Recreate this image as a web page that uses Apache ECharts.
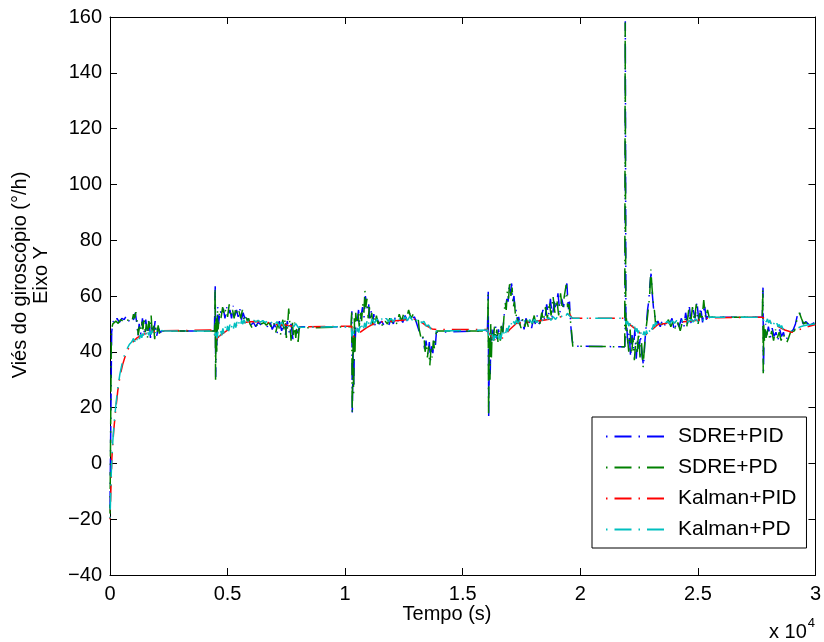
<!DOCTYPE html>
<html>
<head>
<meta charset="utf-8">
<script src="https://cdn.jsdelivr.net/npm/echarts@6/dist/echarts.min.js"></script>
<style>
html,body{margin:0;padding:0;background:#fff;}
#chart{width:824px;height:642px;}
</style>
</head>
<body>
<div id="chart"></div>
<script>
// Axis ticks
const xTicks = [0, 5000, 10000, 15000, 20000, 25000, 30000];
const yTicks = [-40, -20, 0, 20, 40, 60, 80, 100, 120, 140, 160];
const seriesNames = ['SDRE+PID', 'SDRE+PD', 'Kalman+PID', 'Kalman+PD'];

// SDRE+PID (blue) [time s, bias deg/h]
const sdrePid = [[0,-16],[70,47],[130,51],[200,50],[300,52],[400,50.5],[500,52],[600,51.5],[700,53],[800,51],[900,52.5],[1000,51.5],[1080,54],[1140,50],[1190,45.5],[1240,50],[1300,46],[1380,52],[1440,46.5],[1520,51.5],[1580,47.5],[1660,52],[1720,45],[1800,50],[1860,47],[1920,51],[1980,45.5],[2060,48.5],[2140,47],[2250,47.5],[4440,47.5],
[4455,48],[4475,63.5],[4495,31],[4520,50],[4550,42],[4580,56],[4620,50],[4680,55],[4750,53],[4820,55.5],[4890,52],[4960,56],[5030,53.5],[5100,55],[5170,52],[5240,56.5],[5310,53],[5380,55],[5450,52.5],[5520,55.5],[5590,51.5],[5660,54],[5730,52],[5800,53.5],[5880,50.5],[5980,49.5],[6100,50.5],[6200,49],[6300,50.5],[6450,49.5],[6600,50],[6700,49],[6800,51],[6900,48],[7000,50],[7100,46.5],[7200,51],[7300,47.5],[7380,50],[7460,46],[7540,51],[7620,47],[7700,50],[7780,44.5],[7860,49],[7940,46.5],[8020,48],[8080,49],[10250,49],
[10265,50],[10285,54.5],[10305,17.5],[10340,40],[10370,27],[10400,50],[10430,44],[10470,53],[10520,51],[10570,55],[10620,50],[10680,53],[10740,56],[10800,52],[10860,60],[10900,58],[10950,55],[11000,57],[11050,52],[11100,55],[11160,50],[11220,53.5],[11280,49],[11350,52],[11450,50],[11550,51],[11650,49.5],[11750,52],[11850,49.5],[11950,51.5],[12050,50],[12150,53],[12250,51],[12350,52.5],[12450,50.5],[12550,53],[12650,51],[12750,54],[12850,52],[12950,52.5],[13050,50],[13120,50.5],[13200,46],[13300,45],[13380,41],[13440,44],[13520,39],[13580,43.5],[13630,37],[13680,42],[13730,39.5],[13790,45],[13840,42.5],[13880,47],[13920,47.5],[16050,47.5],
[16065,48],[16085,61.5],[16105,17],[16140,42],[16170,32],[16200,48],[16240,44],[16290,48],[16340,45],[16400,49],[16460,44.5],[16520,48],[16580,45],[16640,49],[16700,47],[16760,53],[16820,56],[16880,59],[16930,58],[16980,64],[17030,61],[17080,64.5],[17130,58],[17180,60],[17230,54],[17280,55],[17330,51],[17380,52.5],[17450,49],[17530,51.5],[17610,48],[17690,52],[17770,49.5],[17850,51],[17930,48.5],[18010,52],[18090,50],[18170,53],[18250,50],[18330,51.5],[18410,55],[18490,51],[18570,57],[18650,53],[18730,59],[18810,52],[18890,58],[18970,55],[19050,61],[19130,54],[19210,59],[19290,56],[19370,62],[19430,64.5],[19490,55],[19540,58],[19590,50],[19640,45],[19700,42],[19760,41.8],[21890,41.8],
[21905,45],[21915,158.5],[21940,48],[21970,50],[22020,43],[22080,47],[22140,38],[22200,46],[22260,41],[22320,48],[22380,37.5],[22440,45],[22500,41],[22560,46],[22620,39],[22690,35],[22750,44],[22810,50],[22860,55],[22910,58],[22960,64],[23010,68],[23060,61],[23110,56],[23170,53],[23230,49.5],[23300,51],[23400,49],[23500,51.5],[23600,49.5],[23700,51],[23800,50],[23900,52],[24000,47.5],[24100,51],[24200,49],[24300,52],[24400,48.5],[24480,54],[24560,50],[24640,56],[24720,49.5],[24800,55],[24880,52],[24960,58],[25040,51],[25120,56],[25200,50.5],[25280,57],[25360,51.5],[25440,53.5],[25500,52.4],[27740,52.4],
[27755,53],[27770,63],[27790,33],[27820,48],[27850,45],[27880,50],[27930,46],[28000,49],[28080,45],[28160,48.5],[28240,45.5],[28320,47],[28400,44],[28480,48],[28560,45.5],[28640,47],[28720,44],[28790,43.5],[28880,46],[28960,47],[29060,48],[29150,50],[29230,53],[29300,54.5],[29380,52.5],[29480,50],[29600,50.8],[29750,49.5],[30000,50.6]];

// SDRE+PD (green)
const sdrePd = [[0,-18],[60,48],[120,50],[150,50.5],[250,51],[350,50.2],[450,51.5],[550,51],[650,52],[750,51.2],[850,52.5],[950,51.5],[1000,53.5],[1050,52],[1100,54.2],[1150,51],[1200,46],[1250,49],[1300,47],[1350,51],[1400,48],[1450,52.5],[1500,47],[1550,50],[1600,45],[1650,51],[1700,48],[1750,53],[1800,46],[1850,50],[1900,44.5],[1950,49],[2000,47],[2050,49.5],[2100,46.5],[2150,48],[2200,47],[2300,47.5],[4450,47.5],
[4470,63],[4490,30],[4510,52],[4540,40],[4570,55],[4600,48],[4650,54],[4720,52],[4790,56],[4860,53],[4930,55.5],[5000,52.5],[5070,57],[5140,53],[5210,55],[5280,52],[5350,56],[5420,53],[5490,54.5],[5560,52],[5630,55],[5700,51.5],[5770,53],[5840,51],[5900,52],[5950,50],[6050,48.5],[6150,50],[6250,49.5],[6350,51],[6450,50],[6550,50.5],[6650,49.5],[6750,50.5],[6850,49],[6950,51],[7050,47],[7150,50.5],[7250,46],[7350,51.5],[7400,48],[7450,52],[7500,45],[7550,49],[7600,55.5],[7650,50],[7700,44],[7750,51],[7800,46],[7850,50.5],[7900,45],[7950,49],[8000,43.5],[8050,48.5],[8100,49],[10250,49],
[10280,54.5],[10300,18],[10330,45],[10360,25],[10390,52],[10420,40],[10450,54],[10500,50],[10550,54],[10600,49],[10650,55],[10700,51],[10750,57],[10800,54],[10840,62],[10880,56],[10930,59],[10980,52],[11030,56],[11080,51],[11130,54],[11180,49.5],[11230,52],[11280,50],[11330,53],[11400,50],[11500,51.5],[11600,49],[11700,51],[11800,50],[11900,52],[12000,50.5],[12100,52],[12200,50],[12300,53.5],[12400,51],[12500,54],[12600,51.5],[12700,55],[12800,52],[12900,53.5],[13000,51],[13100,52.5],[13150,48],[13250,44],[13350,46],[13400,40],[13450,43],[13500,38],[13550,42],[13600,35],[13650,41],[13700,38],[13750,44],[13800,41],[13850,46],[13900,47.5],[16060,47.5],
[16080,61],[16100,17],[16130,45],[16160,30],[16190,50],[16220,38],[16250,47],[16300,44],[16350,49],[16400,45],[16450,48],[16500,43.5],[16550,47],[16600,44],[16650,50],[16700,46],[16750,52],[16800,58],[16850,55],[16900,62],[16950,59],[17000,65.5],[17050,60],[17100,63],[17150,56],[17200,58],[17250,52],[17300,54],[17350,50],[17400,51],[17480,48.5],[17560,52],[17640,49],[17720,51.5],[17800,48.5],[17880,52],[17960,50],[18040,53],[18120,49.5],[18200,52],[18280,50],[18360,54],[18440,51],[18520,56],[18600,52],[18680,58],[18760,53],[18840,60],[18920,54],[19000,59],[19080,53],[19160,61],[19240,55],[19320,60],[19400,64],[19460,56],[19520,57],[19570,52],[19620,48],[19680,42],[19750,41.8],[21890,41.8],
[21910,158],[21935,45],[21960,52],[22000,46],[22060,40],[22120,48],[22180,39],[22240,45],[22300,37],[22360,44],[22420,40],[22480,47],[22540,38],[22600,44],[22670,34.5],[22730,42],[22790,48],[22850,52],[22900,56],[22950,60],[23000,69.5],[23050,63],[23100,58],[23150,55],[23200,50],[23260,51],[23350,50.5],[23450,49.5],[23550,51],[23650,50],[23750,51.5],[23850,49],[23950,51],[24050,48],[24150,50.5],[24250,47.5],[24350,51],[24450,52],[24530,49],[24610,55],[24690,50],[24770,56],[24850,51],[24930,57],[25010,50],[25090,54],[25170,51],[25250,58.5],[25330,52],[25410,55],[25480,52.4],[27740,52.4],
[27760,62.7],[27780,32.3],[27800,50],[27830,44],[27860,49],[27900,45],[27980,48],[28060,44.5],[28140,47.5],[28220,44],[28300,48],[28380,45],[28460,47],[28540,44],[28620,46.5],[28700,45],[28780,43.3],[28860,45],[28940,47],[29010,47],[29110,47.5],[29200,51],[29320,54],[29400,52],[29500,50],[29600,50.5],[29700,49.5],[30000,50.3]];

// Kalman+PID (red)
const kalmanPid = [[0,-20],[80,2],[160,12],[240,19],[330,26],[430,31.5],[540,35.5],[650,38.5],[760,40.8],[880,42.5],[1000,43.8],[1150,45],[1300,45.8],[1500,46.5],[1700,47],[1900,47.3],[2200,47.5],[4440,47.8],[4460,44],[4700,46],[5000,47.8],[5300,49.2],[5600,50.2],[5900,50.8],[6300,50.9],[6700,50.5],[7100,49.8],[7500,49.5],[8000,48.9],[8070,49.2],[10270,49.2],[10280,45],[10600,46.8],[10900,48.6],[11200,50],[11600,50.8],[12000,51],[12400,51.3],[12800,51.8],[13100,51.5],[13400,49.6],[13700,48.2],[13900,48],[16060,48],[16070,47],[16400,44],[16700,45],[17000,48],[17300,50.3],[17700,50.6],[18100,50.9],[18500,51.4],[18900,52],[19300,52.8],[19550,53.5],[19650,52],[21900,52],[21910,51],[22300,48.5],[22700,45.5],[23000,47.5],[23300,49.8],[23800,50.3],[24400,50.8],[25000,51.3],[25500,52.2],[27740,52.4],[27760,52.2],[28200,50],[28700,47.8],[29000,47],[29200,47.6],[29600,48.8],[30000,49.8]];

// Kalman+PD (cyan)
const kalmanPd = [[0,-20],[60,-2],[120,8],[180,15],[250,21],[330,27],[420,32],[520,36],[620,39],[720,41],[820,42.6],[920,43.5],[1000,44.8],[1050,43.6],[1100,45.4],[1150,44.2],[1200,46],[1250,44.6],[1300,46.3],[1350,45],[1400,46.6],[1450,45.3],[1500,47],[1550,45.6],[1600,47.2],[1650,45.9],[1700,47.4],[1750,46.2],[1800,47.6],[1850,46.5],[1900,47.7],[1950,46.8],[2000,47.8],[2100,47.2],[2200,47.6],[2300,47.5],[4440,47.5],
[4460,44.5],[4500,47],[4550,44.8],[4600,47.5],[4650,45.4],[4700,48],[4750,45.9],[4800,48.4],[4850,46.4],[4900,48.9],[4950,46.9],[5000,49.3],[5050,47.4],[5100,49.7],[5150,47.9],[5200,50],[5250,48.3],[5300,50.4],[5350,48.7],[5400,50.7],[5450,49.1],[5500,51],[5550,49.5],[5600,51.3],[5650,49.9],[5700,51.5],[5750,50.2],[5800,51.6],[5850,50.5],[5900,51.5],[6000,50.8],[6100,51.4],[6200,50.7],[6300,51.3],[6400,50.6],[6500,51.2],[6600,50.5],[6700,51],[6800,49.7],[6900,50.9],[7000,49.5],[7100,50.8],[7200,49.3],[7300,50.6],[7400,49.2],[7500,50.5],[7600,49],[7700,50.3],[7800,48.9],[7900,50.1],[8000,48.8],[8070,49],[10270,49],
[10280,45.5],[10330,47.5],[10380,45.8],[10430,48],[10480,46.3],[10530,48.6],[10580,46.9],[10630,49.2],[10680,47.5],[10730,49.8],[10780,48.1],[10830,50.4],[10880,48.7],[10930,51],[10980,49.3],[11030,51.5],[11080,49.8],[11150,51.7],[11250,50.3],[11350,51.8],[11450,50.5],[11550,51.9],[11650,50.6],[11750,52],[11850,50.7],[11950,52],[12050,50.8],[12150,52.1],[12250,50.9],[12350,52.3],[12450,51],[12550,52.5],[12650,51.2],[12750,52.7],[12850,51.4],[12950,52.6],[13050,51.3],[13150,52.2],[13250,50.4],[13350,50.9],[13450,49.2],[13550,49.6],[13650,48.1],[13750,48.7],[13850,47.4],[13900,47.8],[16060,47.8],
[16070,47.5],[16120,45.2],[16170,46.8],[16220,44.4],[16270,46.2],[16320,44],[16370,45.9],[16420,43.8],[16470,45.8],[16520,44],[16570,46.2],[16620,44.5],[16670,46.8],[16720,45.3],[16770,47.6],[16820,46.2],[16870,48.5],[16920,47.2],[16970,49.4],[17020,48.1],[17070,50.2],[17120,49],[17170,50.9],[17220,49.8],[17280,51.4],[17350,50.2],[17450,51.5],[17550,50.2],[17650,51.4],[17750,50.1],[17850,51.5],[17950,50.3],[18050,51.6],[18150,50.5],[18250,51.8],[18350,50.7],[18450,52],[18550,51],[18650,52.3],[18750,51.3],[18850,52.6],[18950,51.6],[19050,52.9],[19150,51.9],[19250,53.3],[19350,52.3],[19450,53.8],[19550,52.8],[19600,53.5],[19700,52],[21900,52],
[21910,51.4],[21960,49.8],[22010,51],[22060,49.2],[22110,50.3],[22160,48.5],[22210,49.6],[22260,47.8],[22310,49],[22360,47.2],[22410,48.4],[22460,46.6],[22510,47.9],[22560,46.1],[22610,47.5],[22660,45.8],[22710,47.3],[22760,45.8],[22810,47.6],[22860,46.3],[22910,48.2],[22960,47.1],[23010,49],[23060,48],[23110,49.8],[23160,49],[23210,50.6],[23260,49.7],[23310,50.9],[23400,49.9],[23500,51],[23600,50],[23700,51],[23800,50.1],[23900,51.1],[24000,50.2],[24100,51.2],[24200,50.3],[24300,51.3],[24400,50.4],[24500,51.5],[24600,50.6],[24700,51.6],[24800,50.7],[24900,51.8],[25000,50.9],[25100,52],[25200,51.1],[25300,52.2],[25400,51.6],[25500,52.4],[27740,52.4],
[27760,52.4],[27810,51],[27860,52.2],[27910,50.7],[27960,51.8],[28010,50.3],[28060,51.4],[28110,50],[28160,51],[28210,49.6],[28260,50.6],[28310,49.3],[28360,50.2],[28410,49],[28460,49.8],[28510,48.6],[28560,49.4],[28610,48.3],[28660,49],[28710,48],[28760,48.6],[28810,47.8],[28860,48.3],[28910,47.6],[28960,48],[29010,47.5],[29060,47.8],[29110,47.8],[29200,48.3],[29300,48.7],[29400,49.1],[29500,49.3],[29600,49.5],[29700,49.7],[29800,49.8],[30000,50]];

const FONT = "'Liberation Sans', Arial, Helvetica, sans-serif";
const chart = echarts.init(document.getElementById('chart'), null, {renderer: 'canvas'});
const dash = [17, 7, 1.5, 7];
const colors = ['#0000ff', '#008000', '#ff0000', '#00bfbf'];
const dataSets = [sdrePid, sdrePd, kalmanPid, kalmanPd];
const offsets = [0, 8, 15, 23];

function axisBase(extra) {
  return Object.assign({
    type: 'value',
    axisLine: {show: true, onZero: false, lineStyle: {color: '#000', width: 1}},
    axisTick: {show: true, inside: true, length: 7, lineStyle: {color: '#000'}},
    splitLine: {show: false}
  }, extra);
}

chart.setOption({
  animation: false,
  backgroundColor: '#fff',
  grid: {left: 110, top: 17, right: 8, bottom: 67, containLabel: false},
  xAxis: [
    axisBase({
      position: 'bottom', min: xTicks[0], max: xTicks[xTicks.length - 1], interval: 5000,
      axisLabel: {color: '#000', fontSize: 20, fontFamily: FONT, margin: 9,
        formatter: v => String(v / 10000)}
    }),
    axisBase({
      position: 'top', min: xTicks[0], max: xTicks[xTicks.length - 1], interval: 5000,
      axisLabel: {show: false}
    })
  ],
  yAxis: [
    axisBase({
      position: 'left', min: yTicks[0], max: yTicks[yTicks.length - 1], interval: 20,
      axisLabel: {color: '#000', fontSize: 20, fontFamily: FONT, margin: 8,
        formatter: v => String(v).replace('-', '\u2212')}
    }),
    axisBase({
      position: 'right', min: yTicks[0], max: yTicks[yTicks.length - 1], interval: 20,
      axisLabel: {show: false}
    })
  ],
  legend: {
    orient: 'vertical',
    left: 592, top: 417,
    padding: [9, 10, 8, 13],
    itemWidth: 63, itemHeight: 20, itemGap: 10,
    backgroundColor: '#fff',
    borderColor: '#000', borderWidth: 1,
    itemStyle: {opacity: 0},
    lineStyle: {dashOffset: 24},
    textStyle: {color: '#000', fontSize: 21, fontFamily: FONT, lineHeight: 20, padding: [0, 0, 0, 4]},
    data: seriesNames
  },
  series: seriesNames.map((name, i) => ({
    name: name,
    type: 'line',
    data: dataSets[i],
    showSymbol: false,
    symbol: 'none',
    clip: true,
    color: colors[i],
    lineStyle: {color: colors[i], width: 1.5, type: dash, dashOffset: offsets[i]}
  })),
  graphic: [
    {type: 'text', x: 447, y: 614, style: {text: 'Tempo (s)', fill: '#000', font: '20px ' + FONT, textAlign: 'center', textVerticalAlign: 'middle'}},
    {type: 'text', x: 769, y: 617, style: {
      text: '{a|x 10}{b|4}', fill: '#000', font: '20px ' + FONT,
      rich: {a: {fontSize: 20, fontFamily: FONT, fill: '#000', verticalAlign: 'bottom'},
             b: {fontSize: 13, fontFamily: FONT, fill: '#000', verticalAlign: 'top', padding: [0, 0, 12, 1]}}
    }},
    {type: 'text', x: 20, y: 275, rotation: Math.PI / 2, style: {text: 'Viés do giroscópio (°/h)', fill: '#000', font: '20px ' + FONT, textAlign: 'center', textVerticalAlign: 'middle'}},
    {type: 'text', x: 41, y: 275, rotation: Math.PI / 2, style: {text: 'Eixo Y', fill: '#000', font: '20px ' + FONT, textAlign: 'center', textVerticalAlign: 'middle'}}
  ]
});
</script>
</body>
</html>
